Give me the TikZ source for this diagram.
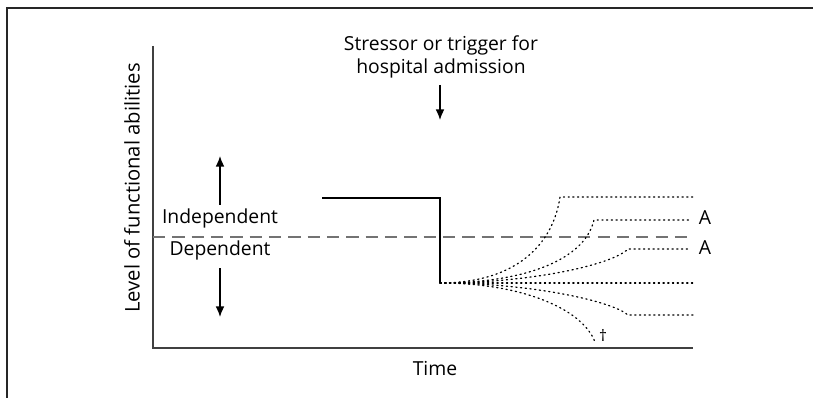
\documentclass[tikz,border=0pt]{standalone}
\usepackage{fontspec}
\setmainfont{Open Sans}
\usetikzlibrary{arrows.meta}
\begin{document}
\begin{tikzpicture}[x=0.02cm,y=-0.02cm,
  lbl/.style={font=\fontsize{11}{13.5}\selectfont, inner sep=0pt},
  axisline/.style={draw=black!75, line width=0.9pt},
  path/.style={draw=black, line width=0.7pt, dotted, line cap=round},
  steppath/.style={draw=black, line width=1.1pt},
  tip/.style={-{Latex[length=6pt,width=5pt]}, line width=0.8pt}]
\useasboundingbox (0,0) rectangle (813,398);
% frame (top and left edges)
\draw[line width=1.2pt, black!85] (7,398) -- (7,8) -- (813,8);

% axes
\coordinate (ytop) at (153,46);
\coordinate (origin) at (153,348);
\coordinate (xend) at (693,348);
\draw[axisline] (ytop) -- (origin) -- (xend);

% independence threshold
\coordinate (thl) at (153,237);
\coordinate (thr) at (693,237);
\draw[black!55, line width=0.7pt, dash pattern=on 7pt off 4pt] (thl) -- (thr);

% labels
\node[lbl, font=\fontsize{11.5}{13.5}\selectfont, rotate=90] (ylab) at (132,188) {Level of functional abilities};
\node[lbl] (xlab) at (435,368) {Time};
\node[lbl, align=center] (stress) at (441,57) {Stressor or trigger for\\hospital admission};
\node[lbl] (indep) at (220,218) {Independent};
\node[lbl] (dep) at (220,250) {Dependent};

% arrows
\coordinate (sa) at (440,85);
\coordinate (sb) at (440,120);
\draw[tip] (sa) -- (sb);
\coordinate (ua) at (220,205);
\coordinate (ub) at (220,156);
\coordinate (da) at (220,268);
\coordinate (db) at (220,317);
\draw[tip] (ua) -- (ub);
\draw[tip] (da) -- (db);

% functional level before and at admission
\coordinate (pre) at (322,198);
\coordinate (drop) at (440,198);
\coordinate (low) at (440,283);
\draw[steppath] (pre) -- (drop) -- (low);

% possible trajectories after admission
\coordinate (e1) at (560,197);
\coordinate (e2) at (594,220);
\coordinate (e3) at (628,249);
\coordinate (e5) at (628,315);
\coordinate (e6) at (595,342);
\draw[path] (low) .. controls (510,283) and (552,250) .. (e1) -- (693,197);
\draw[path] (low) .. controls (520,283) and (584,262) .. (e2) -- (690,220);
\draw[path] (low) .. controls (530,283) and (612,265) .. (e3) -- (690,249);
\draw[path] (low) -- (693,283);
\draw[path] (low) .. controls (530,283) and (612,301) .. (e5) -- (693,315);
\draw[path] (low) .. controls (520,283) and (582,308) .. (e6);

\node[lbl] (a1) at (705,218) {A};
\node[lbl] (a2) at (705,248) {A};
\node[font=\fontsize{9}{10}\selectfont, inner sep=0pt] (dag) at (603,335) {\textdagger};
\end{tikzpicture}
\end{document}
